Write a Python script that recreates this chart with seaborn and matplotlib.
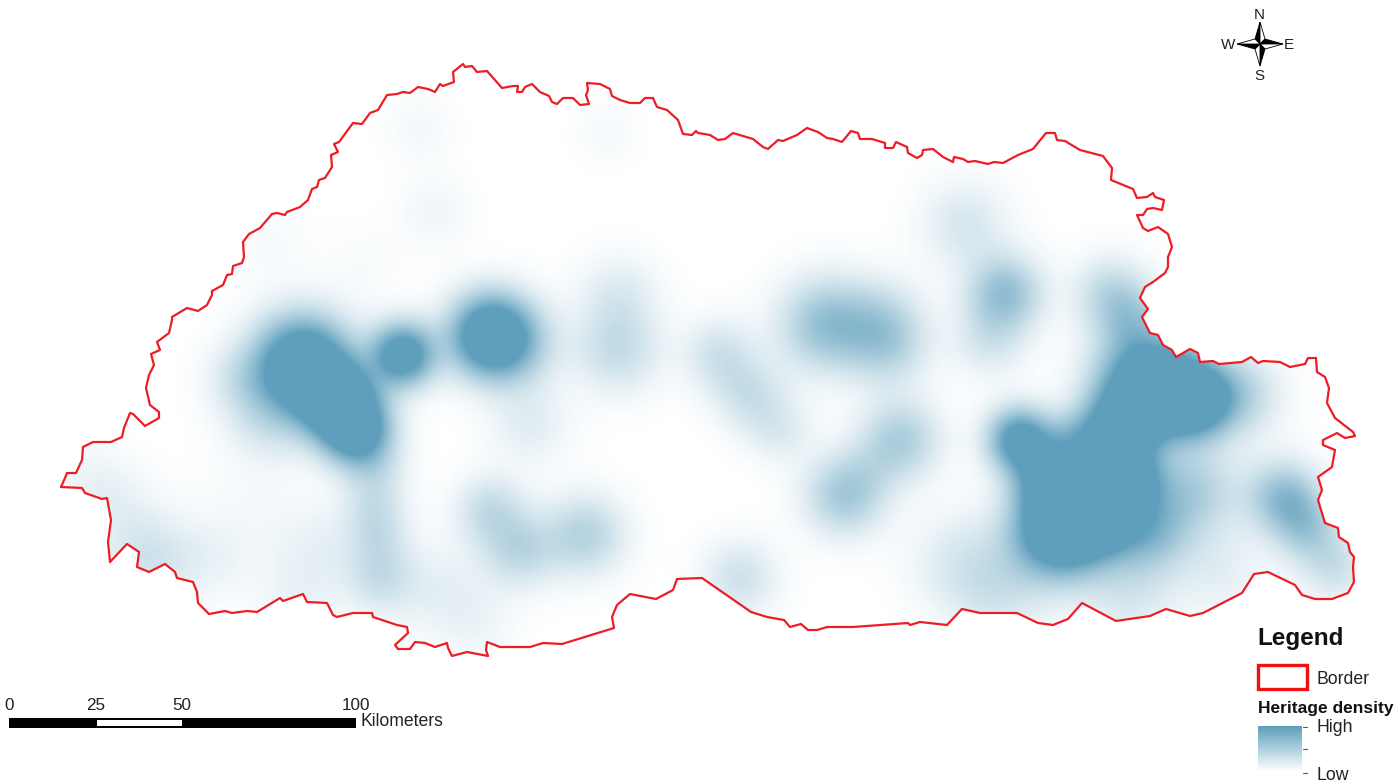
import numpy as np
import matplotlib
matplotlib.use("Agg")
import matplotlib.pyplot as plt
from matplotlib.colors import LinearSegmentedColormap
from matplotlib.patches import Polygon, Rectangle
import seaborn as sns

sns.set_theme(style="white")
plt.rcParams['font.family'] = ['Liberation Sans', 'DejaVu Sans']

border_x = [61,65,67,76,82,83,93,111,122,124,130,133,145,159,159,150,146,149,154,151,160,157,169,172,172,187,198,207,212,212,223,227,232,233,242,244,243,249,260,272,277,285,287,300,308,312,317,319,325,332,331,338,334,339,353,362,370,378,387,397,403,410,418,428,435,440,443,454,453,463,465,472,477,487,
502,513,518,517,522,525,532,540,549,552,557,563,573,580,589,586,588,587,600,610,612,620,630,640,645,653,657,667,678,683,692,696,698,710,718,725,733,743,753,763,768,778,783,797,807,818,827,833,842,851,858,860,872,885,885,893,896,907,908,917,922,923,
933,943,953,954,963,968,975,988,994,1003,1018,1033,1046,1055,1057,1065,1080,1103,1112,1111,1133,1137,1147,1153,1155,1164,1162,1153,1147,1143,1137,1143,1148,1158,1168,1172,1168,1168,1165,1153,1145,1140,1148,1142,1150,1158,1163,1172,1176,1190,1198,1200,1213,1219,1242,1251,1258,1263,1280,1290,1305,1308,1316,1317,
1325,1329,1327,1335,1353,1355,1345,1337,1323,1323,1335,1332,1318,1322,1318,1325,1338,1339,1348,1350,1354,1353,1354,1348,1332,1315,1302,1295,1268,1254,1242,1203,1190,1166,1150,1116,1082,1068,1053,1038,1017,980,962,947,
920,910,908,853,827,817,808,801,790,784,767,751,702,677,673,656,630,617,612,614,562,543,530,500,487,486,488,
467,452,448,447,435,425,415,410,398,395,408,407,397,373,372,353,337,333,327,307,303,283,280,257,247,232,225,209,198,197,193,177,175,165,149,137,139,127,110,108,111,107,102,85,82,61]
border_y = [487,478,473,473,460,447,442,442,437,428,413,414,426,418,412,405,388,375,365,354,350,342,333,320,317,308,311,305,295,291,285,275,274,266,263,257,242,234,228,214,213,215,212,207,200,189,187,180,178,167,155,152,144,142,123,124,113,110,95,94,92,93,87,89,92,84,86,82,72,64,67,66,72,71,
88,86,86,92,92,87,84,92,96,102,104,98,98,105,104,95,90,83,84,89,96,100,103,103,98,98,107,110,120,134,135,131,133,135,140,139,133,136,139,147,149,140,141,135,128,132,138,139,142,131,133,139,139,143,148,148,142,147,153,158,155,150,
149,157,162,157,159,162,161,164,162,163,155,149,133,133,140,141,150,156,168,180,189,198,197,193,197,200,210,208,209,215,215,228,231,227,234,247,257,267,273,282,287,298,309,317,333,335,345,350,357,349,353,362,361,364,362,357,363,361,362,367,364,358,358,372,
377,388,403,418,432,436,438,433,440,445,450,467,477,490,500,523,528,537,543,552,557,567,582,593,599,599,595,585,572,574,593,613,616,609,616,621,603,619,625,623,613,613,609,625,
622,625,623,627,627,630,630,624,627,620,617,612,578,579,590,599,594,605,617,628,644,643,647,647,642,650,656,
652,656,648,643,647,643,642,649,649,645,633,627,625,617,613,613,617,615,603,602,594,601,598,612,611,613,611,614,603,592,582,578,572,564,572,567,552,544,562,542,520,498,499,493,488,487]

# hotspots: centre, spread and peak strength
spot_x = [303,338,356,270,240,403,490,515,618,618,720,750,780,825,880,890,900,845,870,1005,990,965,1112,1130,
          1150,1195,1120,1020,1050,1075,1060,1100,1130,1150,1190,1285,1305,1325,1240,
          420,435,607,270,365,90,120,150,210,250,375,378,380,375,320,300,490,520,585,740,530,440,480,960,1000,1130,1230,1250,1340,1210]
spot_y = [365,400,430,420,380,355,335,345,350,295,355,395,430,325,325,350,440,495,470,293,340,225,295,320,
          385,400,430,440,480,440,530,515,480,530,490,497,525,555,395,
          130,212,133,245,265,480,510,560,560,520,470,540,578,510,545,600,510,550,535,578,425,590,625,560,590,590,590,500,575,560]
spot_s = [33,25,24,30,25,22,28,30,30,28,25,25,23,32,30,28,28,28,22,26,26,30,26,22,
          35,25,25,22,24,20,32,26,22,28,30,24,22,25,28,
          24,24,22,28,28,25,30,30,28,40,22,22,24,22,30,30,24,26,28,26,28,35,26,35,35,35,30,40,20,28]
spot_a = [1.6,1.3,1.3,.25,.2,1.3,1.4,.4,.35,.2,.3,.3,.2,.62,.4,.25,.5,.55,.08,.65,.25,.25,.4,.3,
          1.6,1.3,1.2,1.2,1.0,.5,1.6,1.15,1.1,.6,.45,.6,.4,.25,.4,
          .07,.1,.06,.05,.04,.1,.12,.28,.1,.06,.25,.2,.3,.25,.12,.12,.35,.4,.45,.3,.18,.15,.08,.2,.25,.25,.08,.1,.15,.1]

legend_levels = [1.0, 0.0]
scale_ticks = ["0", "25", "50", "100"]
scale_pos = [9, 96, 182, 356]

W, H, CELL = 1398, 782, 2
fig = plt.figure(figsize=(13.98, 7.82), dpi=100, facecolor="white")
cmap = LinearSegmentedColormap.from_list("heritage", ["#ffffff", "#5f9fbc"])

# density surface
ax_map = fig.add_axes([0, 0, 1, 1])
gx, gy = np.meshgrid(np.arange(CELL / 2, W, CELL), np.arange(CELL / 2, H, CELL))
density = np.zeros_like(gx, dtype=float)
for x0, y0, s, a in zip(spot_x, spot_y, spot_s, spot_a):
    density += a * np.exp(-((gx - x0) ** 2 + (gy - y0) ** 2) / (2 * s ** 2))
sns.heatmap(density, ax=ax_map, cmap=cmap, vmin=0, vmax=1, cbar=False,
            xticklabels=False, yticklabels=False, rasterized=True)
ax_map.axis("off")

# overlay in pixel units
ax = fig.add_axes([0, 0, 1, 1])
ax.set_xlim(0, W)
ax.set_ylim(H, 0)
ax.axis("off")
ax.patch.set_alpha(0)

clip = Polygon(np.column_stack([border_x, border_y]), closed=True, transform=ax.transData)
ax_map.collections[0].set_clip_path(clip)
sns.lineplot(x=border_x, y=border_y, sort=False, estimator=None, ax=ax, color="#ee1c25", lw=1.6)

# compass
cx, cy = 1260, 44
arm_v, arm_h, w = 22, 23, 5
for tip, side, col in [((cx, cy-arm_v), (cx-w, cy-w), "black"), ((cx, cy-arm_v), (cx+w, cy-w), "white"),
                       ((cx+arm_h, cy), (cx+w, cy-w), "black"), ((cx+arm_h, cy), (cx+w, cy+w), "white"),
                       ((cx, cy+arm_v), (cx+w, cy+w), "black"), ((cx, cy+arm_v), (cx-w, cy+w), "white"),
                       ((cx-arm_h, cy), (cx-w, cy+w), "black"), ((cx-arm_h, cy), (cx-w, cy-w), "white")]:
    ax.add_patch(Polygon([(cx, cy), tip, side], closed=True, fc=col, ec="black", lw=0.6))
for s, x, y in [("N", 1259, 15), ("S", 1259, 76), ("W", 1228, 45), ("E", 1289, 45)]:
    ax.text(x, y, s, ha="center", va="center", fontsize=11, color="#222222")

# scale bar
ax.add_patch(Rectangle((9, 718), 347, 10, fc="black", ec="none"))
ax.add_patch(Rectangle((97, 720), 85, 6, fc="white", ec="none"))
for s, x in zip(scale_ticks, scale_pos):
    ax.text(x, 706, s, ha="center", va="center", fontsize=12.3, color="#222222")
ax.text(360, 722, "Kilometers", ha="left", va="center", fontsize=12.7, color="#222222")

# legend
ax.text(1257, 638, "Legend", ha="left", va="center", fontsize=17.5, fontweight="bold", color="#111111")
ax.add_patch(Rectangle((1258, 664.5), 48.5, 24, fc="white", ec="#ee1111", lw=2.4))
ax.text(1316, 679, "Border", ha="left", va="center", fontsize=12.7, color="#222222")
ax.text(1258, 709, "Heritage density", ha="left", va="center", fontsize=12.5, fontweight="bold", color="#111111")
ax_leg = fig.add_axes([1258 / W, 1 - 772 / H, 44 / W, 46 / H])
sns.heatmap(np.linspace(legend_levels[0], legend_levels[1], 46)[:, None], ax=ax_leg, cmap=cmap,
            vmin=0, vmax=1, cbar=False, xticklabels=False, yticklabels=False)
ax_leg.axis("off")
for y in [727, 749, 773]:
    ax.plot([1303, 1307], [y, y], color="#555555", lw=0.8)
ax.text(1316, 728, "High", ha="left", va="center", fontsize=12.7, color="#222222")
ax.text(1316, 775, "Low", ha="left", va="center", fontsize=12.7, color="#222222")

fig.savefig("out.png", dpi=100, facecolor="white")
